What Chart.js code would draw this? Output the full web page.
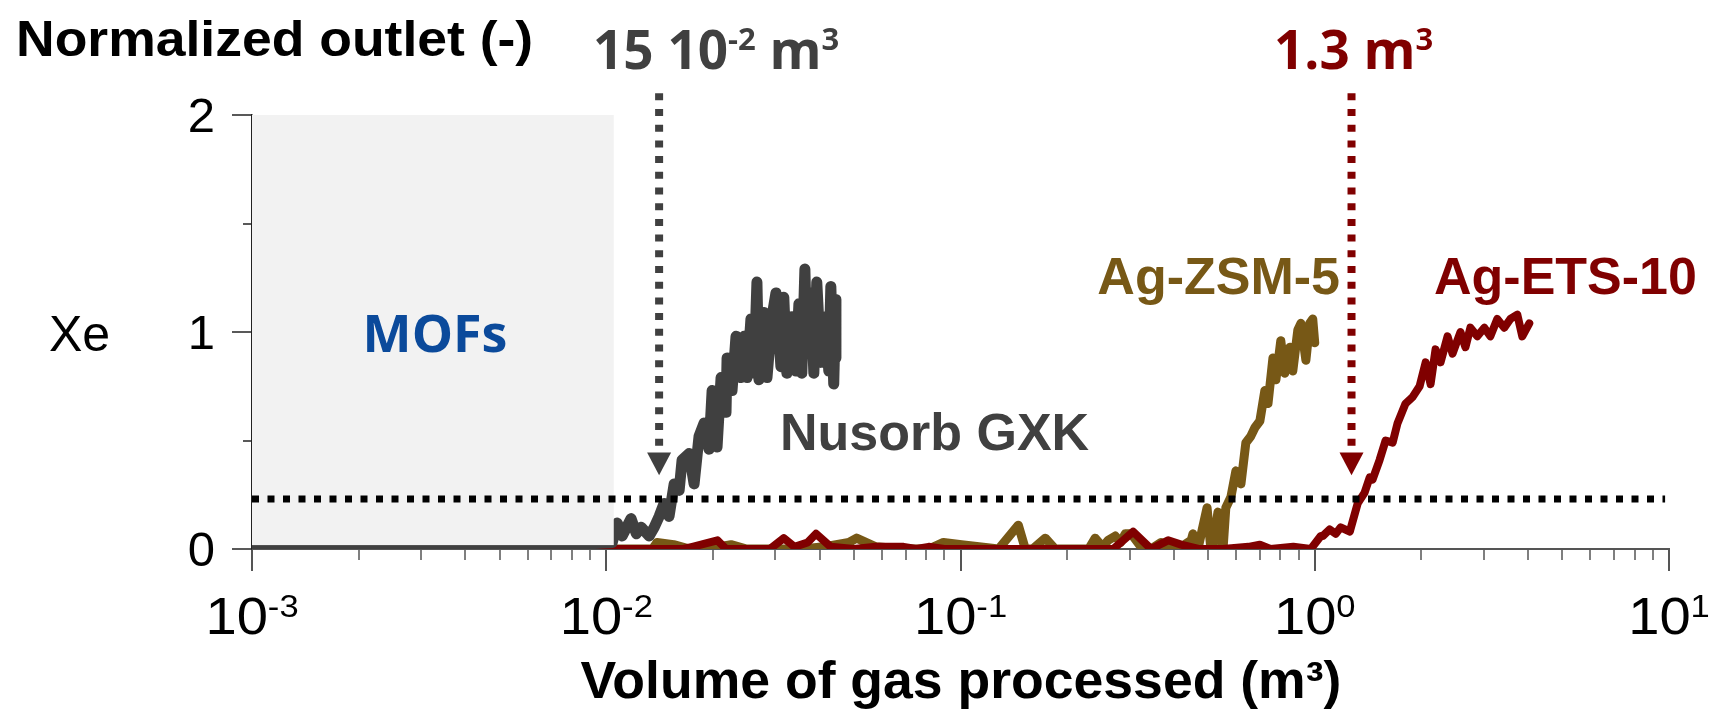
<!DOCTYPE html>
<html>
<head>
<meta charset="utf-8">
<script src="https://cdn.jsdelivr.net/npm/chart.js@4.4.1/dist/chart.umd.min.js"></script>
<style>
body{margin:0;background:#fff;}
canvas{display:block;}
</style>
</head>
<body>
<canvas id="myChart" width="1711" height="710"></canvas>
<script>
// breakthrough curves, x = volume of gas (m3), y = normalized Xe outlet
var nusorbX=[0.001,0.005,0.0104,0.01074,0.01109,0.01175,0.01216,0.01255,0.01322,0.01366,0.0141,0.01456,0.01504,0.01555,0.01606,0.01637,0.01714,0.0177,0.01828,0.01888,0.0195,0.0199,0.02055,0.02109,0.02178,0.02193,0.02265,0.02324,0.024,0.02449,0.02496,0.02561,0.02612,0.02663,0.02698,0.02786,0.02843,0.02937,0.03013,0.03112,0.03171,0.03235,0.03342,0.03428,0.03498,0.03565,0.03637,0.03683,0.03778,0.03855,0.03929,0.04035,0.04169,0.04248,0.04305,0.04387,0.04446,0.0445]
var nusorbY=[0,0,0.03,0.12,0.06,0.14,0.07,0.10,0.06,0.10,0.15,0.21,0.15,0.30,0.27,0.41,0.44,0.30,0.52,0.58,0.46,0.73,0.47,0.79,0.63,0.88,0.73,0.98,0.79,0.98,0.79,1.06,0.81,1.23,0.78,1.09,0.79,1.07,1.18,0.84,1.16,0.81,1.07,0.82,1.13,0.81,1.29,0.92,1.18,0.81,1.23,0.86,1.07,0.82,1.21,0.76,1.15,0.88]

var zsmX=[0.001,0.0135,0.0139,0.0155,0.0172,0.0207,0.0225,0.0249,0.030,0.036,0.041,0.0484,0.0509,0.0577,0.0691,0.0813,0.0895,0.1007,0.128,0.1456,0.1524,0.16,0.1735,0.185,0.230,0.240,0.252,0.261,0.2735,0.283,0.2917,0.3033,0.32,0.345,0.368,0.39,0.42,0.448,0.453,0.468,0.4966,0.509,0.516,0.533,0.551,0.561,0.580,0.599,0.619,0.639,0.660,0.678,0.700,0.723,0.738,0.762,0.777,0.802,0.823,0.851,0.867,0.896,0.914,0.944,0.968,0.987,1.0]
var zsmY=[0,0,0.03,0.02,0,0.01,0.02,0,0,0,0.01,0.03,0.05,0.01,0,0,0.03,0.02,0,0.11,0,0,0.05,0,0,0.05,0.01,0.04,0.06,0.03,0.07,0.07,0.02,0,0.03,0,0.01,0.04,0.07,0,0.19,0,0.01,0.17,0,0.19,0.24,0.36,0.30,0.49,0.52,0.56,0.59,0.73,0.67,0.88,0.78,0.96,0.81,0.93,0.82,1.01,1.04,0.87,1.04,1.06,0.95]

var etsX=[0.001,0.0125,0.0165,0.0175,0.0206,0.0218,0.029,0.0317,0.034,0.037,0.0391,0.043,0.050,0.0577,0.0691,0.075,0.0813,0.09,0.27,0.307,0.345,0.3855,0.4195,0.47,0.55,0.65,0.70,0.75,0.87,0.975,1.04,1.054,1.102,1.146,1.183,1.256,1.322,1.383,1.429,1.456,1.524,1.585,1.659,1.713,1.804,1.888,1.977,2.056,2.123,2.193,2.265,2.371,2.449,2.578,2.663,2.750,2.877,3.011,3.131,3.275,3.428,3.566,3.731,3.853,4.033]
var etsY=[0,0,0,0.01,0.04,0,0,0.05,0.01,0.03,0.07,0.01,0,0.01,0.01,0,0.01,0,0,0.08,0,0.04,0.02,0,0,0.01,0.02,0,0.01,0,0.06,0.06,0.09,0.07,0.10,0.08,0.21,0.26,0.33,0.32,0.41,0.50,0.49,0.58,0.67,0.70,0.75,0.86,0.76,0.92,0.86,0.98,0.90,1.00,0.93,1.02,0.98,1.02,0.98,1.06,1.02,1.06,1.08,0.98,1.04]

var thresholdX=[0.001,9.75]
var thresholdY=[0.23,0.23]

var xMajorTicks=[0.001,0.01,0.1,1,10]
var xTickExps=['-3','-2','-1','0','1']
var xMinorMult=[2,3,4,5,6,7,8,9]
var yMajorTicks=[0,1,2]
var yMinorTicks=[0.5,1.5]

var mofRange={x0:0.001,x1:0.0105,y0:0.018,y1:2}
var arrowGrey=0.0141
var arrowRed=1.27

function pts(xs,ys){
  var out=[]
  for(var i=0;i<xs.length;i++){ out.push({x:xs[i],y:ys[i]}) }
  return out
}

var ARIAL='"Liberation Sans", Arial, sans-serif'
var SEGOE='"Open Sans", "Noto Sans", sans-serif'

// draw text made of pieces, some raised as superscript; sx stretches it sideways
function drawRich(ctx,parts,x,y,align,color,sx){
  sx=sx||1
  var w=0
  parts.forEach(function(p){ ctx.font=p.f; w+=ctx.measureText(p.t).width })
  w*=sx
  var cx=x
  if(align==='center') cx=x-w/2
  if(align==='right') cx=x-w
  ctx.save()
  ctx.translate(cx,y)
  ctx.scale(sx,1)
  ctx.fillStyle=color
  ctx.textAlign='left'
  ctx.textBaseline='alphabetic'
  var off=0
  parts.forEach(function(p){
    ctx.font=p.f
    ctx.fillText(p.t,off,-(p.rise||0))
    off+=ctx.measureText(p.t).width
  })
  ctx.restore()
}

function arrow(ctx,xs,ys,xv,color){
  var px=xs.getPixelForValue(xv)
  var top=ys.getPixelForValue(2.1)
  var base=ys.getPixelForValue(0.445)
  var tip=ys.getPixelForValue(0.34)
  ctx.save()
  ctx.strokeStyle=color
  ctx.lineWidth=8
  ctx.setLineDash([7,8.7])
  ctx.beginPath()
  ctx.moveTo(px,top)
  ctx.lineTo(px,base-2)
  ctx.stroke()
  ctx.setLineDash([])
  ctx.fillStyle=color
  ctx.beginPath()
  ctx.moveTo(px-12,base)
  ctx.lineTo(px+12,base)
  ctx.lineTo(px,tip)
  ctx.closePath()
  ctx.fill()
  ctx.restore()
}

var boxPlugin={
  id:'mofBox',
  beforeDatasetDraw:function(chart,args){
    if(args.meta.label!=='threshold') return
    var xs=chart.scales.x, ys=chart.scales.y, ctx=chart.ctx
    var l=xs.getPixelForValue(mofRange.x0), r=xs.getPixelForValue(mofRange.x1)
    var t=ys.getPixelForValue(mofRange.y1), b=ys.getPixelForValue(mofRange.y0)
    ctx.save()
    ctx.fillStyle='#f2f2f2'
    ctx.fillRect(l,t,r-l,b-t)
    ctx.restore()
  }
}

var decoPlugin={
  id:'deco',
  afterDraw:function(chart){
    var ctx=chart.ctx, xs=chart.scales.x, ys=chart.scales.y
    var area=chart.chartArea
    ctx.save()
    // x tick marks
    ctx.strokeStyle='#555'
    ctx.lineWidth=2
    xMajorTicks.forEach(function(v){
      var px=Math.round(xs.getPixelForValue(v))
      ctx.beginPath(); ctx.moveTo(px,area.bottom); ctx.lineTo(px,area.bottom+22); ctx.stroke()
    })
    ctx.lineWidth=1.5
    xMajorTicks.slice(0,-1).forEach(function(d){
      xMinorMult.forEach(function(m){
        var px=Math.round(xs.getPixelForValue(d*m))
        ctx.beginPath(); ctx.moveTo(px,area.bottom); ctx.lineTo(px,area.bottom+11); ctx.stroke()
      })
    })
    // y tick marks
    ctx.strokeStyle='#222'
    ctx.lineWidth=1.5
    yMajorTicks.forEach(function(v){
      var py=Math.round(ys.getPixelForValue(v))
      ctx.beginPath(); ctx.moveTo(area.left-20,py); ctx.lineTo(area.left,py); ctx.stroke()
    })
    yMinorTicks.forEach(function(v){
      var py=Math.round(ys.getPixelForValue(v))
      ctx.beginPath(); ctx.moveTo(area.left-9,py); ctx.lineTo(area.left,py); ctx.stroke()
    })
    // y labels
    yMajorTicks.forEach(function(v){
      drawRich(ctx,[{t:String(v),f:'49px '+ARIAL}],215,ys.getPixelForValue(v)+17,'right','#000')
    })
    // x labels 10^n
    xMajorTicks.forEach(function(v,i){
      drawRich(ctx,[{t:'10',f:'52px '+ARIAL},{t:xTickExps[i],f:'32px '+ARIAL,rise:17}],
        xs.getPixelForValue(v),634,'center','#000',1.08)
    })
    // arrows
    arrow(ctx,xs,ys,arrowGrey,'#404040')
    arrow(ctx,xs,ys,arrowRed,'#800000')
    // texts
    drawRich(ctx,[{t:'Normalized outlet (-)',f:'bold 50px '+ARIAL}],16,56,'left','#000',1.07)
    drawRich(ctx,[{t:'Volume of gas processed (m³)',f:'bold 51px '+ARIAL}],961,698,'center','#000',1.05)
    drawRich(ctx,[{t:'Xe',f:'50px '+ARIAL}],49,351,'left','#000')
    drawRich(ctx,[{t:'MOFs',f:'bold 52px '+SEGOE}],435,352,'center','#0b4a9b')
    drawRich(ctx,[{t:'15 10',f:'bold 53px '+SEGOE},{t:'-2',f:'bold 31px '+SEGOE,rise:19},
      {t:' m',f:'bold 53px '+SEGOE},{t:'3',f:'bold 31px '+SEGOE,rise:19}],593,69,'left','#404040')
    drawRich(ctx,[{t:'1.3 m',f:'bold 53px '+SEGOE},{t:'3',f:'bold 31px '+SEGOE,rise:19}],1274,69,'left','#800000')
    drawRich(ctx,[{t:'Nusorb GXK',f:'bold 52px '+ARIAL}],780,450,'left','#404040')
    drawRich(ctx,[{t:'Ag-ZSM-5',f:'bold 52px '+ARIAL}],1340,294,'right','#775816')
    drawRich(ctx,[{t:'Ag-ETS-10',f:'bold 52px '+ARIAL}],1434,294,'left','#800000')
    ctx.restore()
  }
}

var lineStyle={pointRadius:0,tension:0,borderJoinStyle:'round',borderCapStyle:'round',fill:false}

var config={
  type:'line',
  data:{
    datasets:[
      Object.assign({label:'threshold',data:pts(thresholdX,thresholdY),borderColor:'#000',borderWidth:7,borderDash:[7,8.5],order:0},lineStyle,{borderCapStyle:'butt'}),
      Object.assign({label:'Nusorb GXK',data:pts(nusorbX,nusorbY),borderColor:'#404040',borderWidth:11,order:1},lineStyle),
      Object.assign({label:'Ag-ETS-10',data:pts(etsX,etsY),borderColor:'#800000',borderWidth:8,order:2},lineStyle),
      Object.assign({label:'Ag-ZSM-5',data:pts(zsmX,zsmY),borderColor:'#775816',borderWidth:9,order:3},lineStyle)
    ]
  },
  options:{
    responsive:false,
    animation:false,
    layout:{padding:{left:252,right:42,top:115,bottom:161}},
    plugins:{legend:{display:false},tooltip:{enabled:false}},
    scales:{
      x:{type:'logarithmic',min:0.001,max:10,
        grid:{display:false,drawTicks:false},ticks:{display:false},
        border:{display:true,color:'#555',width:2}},
      y:{type:'linear',min:0,max:2,
        grid:{display:false,drawTicks:false},ticks:{display:false},
        border:{display:true,color:'#222',width:1.5}}
    }
  },
  plugins:[boxPlugin,decoPlugin]
}

var myChart=new Chart(document.getElementById('myChart'),config)
</script>
</body>
</html>
